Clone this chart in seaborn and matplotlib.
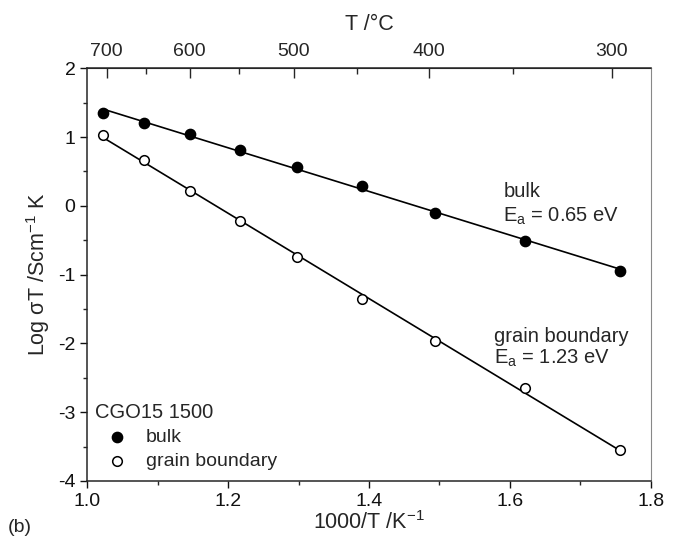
import numpy as np
import matplotlib
matplotlib.use("Agg")
import matplotlib.pyplot as plt
from matplotlib.ticker import MultipleLocator, FixedLocator
import seaborn as sns

# 1000/T values (K^-1)
inv_T = [1.023, 1.080, 1.146, 1.217, 1.298, 1.390, 1.494, 1.622, 1.756]
# log(sigma T)
bulk = [1.35, 1.21, 1.04, 0.81, 0.56, 0.29, -0.10, -0.51, -0.94]
grain_boundary = [1.03, 0.66, 0.22, -0.22, -0.75, -1.35, -1.96, -2.65, -3.55]

top_ticks = [700, 600, 500, 400, 300]
top_minor = [650, 550, 450, 350]

sns.set_style("ticks")
plt.rcParams['font.family'] = ['Liberation Sans', 'DejaVu Sans']
plt.rcParams['mathtext.fontset'] = 'custom'
plt.rcParams['mathtext.rm'] = 'Liberation Sans'
plt.rcParams['mathtext.it'] = 'Liberation Sans:italic'
plt.rcParams['axes.unicode_minus'] = False

fig = plt.figure(figsize=(6.74, 5.43), dpi=100)
ax = fig.add_axes([0.1295, 0.1142, 0.8359, 0.76])

# fitted lines
sns.regplot(x=inv_T, y=bulk, scatter=False, ci=None, truncate=True, ax=ax,
            line_kws=dict(color='black', lw=1.2))
sns.regplot(x=inv_T, y=grain_boundary, scatter=False, ci=None, truncate=True, ax=ax,
            line_kws=dict(color='black', lw=1.2))

sns.scatterplot(x=inv_T, y=bulk, ax=ax, s=55, color='black', edgecolor='black',
                linewidth=1.0, label='bulk', zorder=3)
sns.scatterplot(x=inv_T, y=grain_boundary, ax=ax, s=48, facecolor='white',
                edgecolor='black', linewidth=1.1, label='grain boundary', zorder=3)

ax.set_xlim(1.0, 1.8)
ax.set_ylim(-4, 2)
ax.xaxis.set_major_locator(MultipleLocator(0.2))
ax.xaxis.set_minor_locator(MultipleLocator(0.1))
ax.yaxis.set_major_locator(MultipleLocator(1))
ax.yaxis.set_minor_locator(MultipleLocator(0.5))
ax.set_xticklabels([f"{v:.1f}" for v in ax.get_xticks()])
ax.tick_params(which='major', direction='out', length=5, width=1.0, labelsize=14, colors='#111111')
ax.tick_params(which='minor', direction='out', length=3, width=1.0)
for s in ['left', 'bottom', 'top']:
    ax.spines[s].set_linewidth(1.1)
ax.spines['right'].set_color('#888888')

ax.set_xlabel("1000/T /K$^{-1}$", fontsize=15.5, labelpad=1)
ax.set_ylabel("Log σT /Scm$^{-1}$ K", fontsize=15.5, labelpad=4)

sec = ax.secondary_xaxis('top', functions=(lambda x: 1000.0 / np.asarray(x, float) - 273.15,
                                           lambda t: 1000.0 / (np.asarray(t, float) + 273.15)))
sec.xaxis.set_major_locator(FixedLocator(top_ticks))
sec.xaxis.set_minor_locator(FixedLocator(top_minor))
sec.tick_params(which='major', direction='in', length=7, width=1.0, labelsize=14, pad=6)
sec.tick_params(which='minor', direction='in', length=4, width=1.0)
sec.set_xlabel("T /°C", fontsize=15.5, labelpad=9)

ax.text(1.591, 0.131, "bulk", fontsize=14.5, va='baseline')
ax.text(1.591, -0.233, "E$_\\mathrm{a}$ = 0.65 eV", fontsize=14.5, va='baseline')
ax.text(1.577, -1.98, "grain boundary", fontsize=14.5, va='baseline')
ax.text(1.577, -2.294, "E$_\\mathrm{a}$ = 1.23 eV", fontsize=14.5, va='baseline')

leg = ax.legend(title="CGO15 1500", loc='upper left', bbox_to_anchor=(0.0137, 0.19),
                frameon=False, fontsize=14, title_fontsize=14.5, handletextpad=0.36,
                borderaxespad=0, borderpad=0, labelspacing=0.35, handlelength=2.27)
leg._legend_box.align = "left"

fig.text(0.012, 0.02, "(b)", fontsize=14)

fig.savefig("out.png", dpi=100)
